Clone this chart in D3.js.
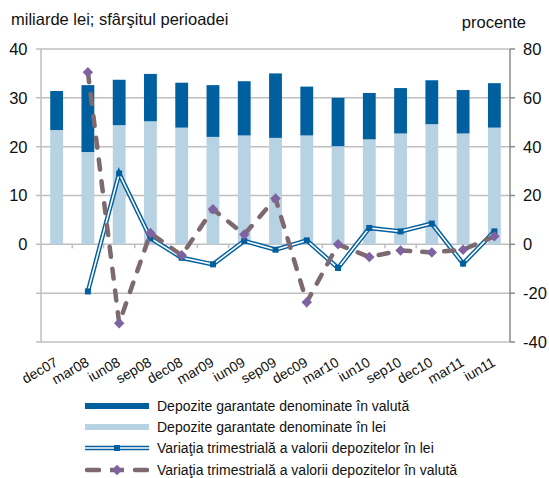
<!DOCTYPE html>
<html>
<head>
<meta charset="utf-8">
<script src="https://cdn.jsdelivr.net/npm/d3@7"></script>
<style>
  body { margin: 0; background: #fff; }
  svg { font-family: "Liberation Sans", Arial, sans-serif; }
</style>
</head>
<body>
<div id="chart"></div>
<script>
// categories (end of quarter)
var categories = ["dec07", "mar08", "iun08", "sep08", "dec08", "mar09", "iun09", "sep09",
                  "dec09", "mar10", "iun10", "sep10", "dec10", "mar11", "iun11"];
// deposits denominated in lei (bn lei)
var depLei = [23.4, 18.9, 24.4, 25.2, 23.9, 22.0, 22.3, 21.8, 22.3, 20.1, 21.5, 22.7, 24.6, 22.7, 23.9];
// deposits denominated in foreign currency (bn lei)
var depValuta = [8.0, 13.7, 9.3, 9.7, 9.2, 10.6, 11.1, 13.2, 10.0, 9.9, 9.5, 9.3, 9.0, 8.9, 9.1];
// quarterly change, lei deposits (%)
var varLei = [null, -19.3, 29.0, 2.5, -5.5, -8.2, 1.4, -2.2, 1.6, -9.7, 6.7, 5.3, 8.5, -7.9, 5.3];
// quarterly change, foreign currency deposits (%)
var varValuta = [null, 70.5, -32.3, 4.6, -4.5, 14.4, 4.0, 18.8, -23.7, 0.0, -5.2, -2.5, -3.3, -2.2, 3.3];
// tick labels
var leftTicks = [0, 10, 20, 30, 40];
var rightTicks = [-40, -20, 0, 20, 40, 60, 80];
var legendLabels = ["Depozite garantate denominate în valută",
                    "Depozite garantate denominate în lei",
                    "Variaţia trimestrială a valorii depozitelor în lei",
                    "Variaţia trimestrială a valorii depozitelor în valută"];

var W = 549, H = 478;
var plot = { left: 41, right: 510, top: 49, bottom: 342 };
var colValuta = "#005f9f", colLei = "#b7d2e3", colLine = "#005f9f",
    colDash = "#7c6a70", colDiamond = "#7f63a1", colGrid = "#bfbfbf";

var svg = d3.select("#chart").append("svg").attr("width", W).attr("height", H);

var x = d3.scaleBand().domain(categories).range([plot.left, plot.right]).paddingInner(0).paddingOuter(0);
var yL = d3.scaleLinear().domain([-20, 40]).range([plot.bottom, plot.top]);
var yR = d3.scaleLinear().domain([-40, 80]).range([plot.bottom, plot.top]);

// gridlines
svg.append("g").selectAll("line").data(d3.range(-20, 41, 10)).enter().append("line")
    .attr("x1", plot.left - 5).attr("x2", plot.right)
    .attr("y1", function (d) { return yL(d); }).attr("y2", function (d) { return yL(d); })
    .attr("stroke", colGrid).attr("stroke-width", 1.5);

// left axis line
svg.append("line").attr("x1", plot.left).attr("x2", plot.left)
    .attr("y1", plot.top).attr("y2", plot.bottom)
    .attr("stroke", colGrid).attr("stroke-width", 1.5);

// left tick labels
svg.append("g").selectAll("text").data(leftTicks).enter().append("text")
    .attr("x", 27.5).attr("y", function (d) { return yL(d); }).attr("dy", "0.36em")
    .attr("text-anchor", "end").attr("font-size", 16.5).attr("fill", "#111")
    .text(function (d) { return d; });

// stacked bars
var barW = x.bandwidth() * 0.41;
var bars = svg.append("g");
bars.selectAll("rect.lei").data(categories).enter().append("rect")
    .attr("class", "lei")
    .attr("x", function (d) { return x(d) + (x.bandwidth() - barW) / 2; })
    .attr("width", barW)
    .attr("y", function (d, i) { return yL(depLei[i]); })
    .attr("height", function (d, i) { return yL(0) - yL(depLei[i]); })
    .attr("fill", colLei);
bars.selectAll("rect.val").data(categories).enter().append("rect")
    .attr("class", "val")
    .attr("x", function (d) { return x(d) + (x.bandwidth() - barW) / 2; })
    .attr("width", barW)
    .attr("y", function (d, i) { return yL(depLei[i] + depValuta[i]); })
    .attr("height", function (d, i) { return yL(depLei[i]) - yL(depLei[i] + depValuta[i]); })
    .attr("fill", colValuta);

// x axis ticks at the zero line
svg.append("g").selectAll("line").data(d3.range(1, categories.length + 1)).enter().append("line")
    .attr("x1", function (d) { return plot.left + d * x.bandwidth(); })
    .attr("x2", function (d) { return plot.left + d * x.bandwidth(); })
    .attr("y1", yL(0)).attr("y2", yL(0) + 4)
    .attr("stroke", colGrid).attr("stroke-width", 1.5);

// right axis
var rAxis = svg.append("g");
rAxis.append("line").attr("x1", plot.right).attr("x2", plot.right)
    .attr("y1", plot.top).attr("y2", plot.bottom)
    .attr("stroke", "#8a8a8a").attr("stroke-width", 1.5);
rAxis.selectAll("line.t").data(rightTicks).enter().append("line")
    .attr("class", "t")
    .attr("x1", plot.right).attr("x2", plot.right + 5)
    .attr("y1", function (d) { return yR(d); }).attr("y2", function (d) { return yR(d); })
    .attr("stroke", "#8a8a8a").attr("stroke-width", 1.5);
rAxis.selectAll("text").data(rightTicks).enter().append("text")
    .attr("x", 523).attr("y", function (d) { return yR(d); }).attr("dy", "0.36em")
    .attr("text-anchor", "start").attr("font-size", 16.5).attr("fill", "#111")
    .text(function (d) { return d; });

// category labels
svg.append("g").selectAll("text").data(categories).enter().append("text")
    .attr("transform", function (d) {
        return "translate(" + (x(d) + x.bandwidth() / 2 + 2) + "," + 365 + ") rotate(-30)";
    })
    .attr("text-anchor", "end").attr("font-size", 14).attr("fill", "#111")
    .text(function (d) { return d; });

// titles
svg.append("text").attr("x", 11).attr("y", 25).attr("font-size", 16.5).attr("fill", "#111")
    .text("miliarde lei; sfârşitul perioadei");
svg.append("text").attr("x", 526).attr("y", 28).attr("text-anchor", "end")
    .attr("font-size", 16.5).attr("fill", "#111").text("procente");

// lei change line (double line)
var lineLei = d3.line()
    .defined(function (d) { return d != null; })
    .x(function (d, i) { return x(categories[i]) + x.bandwidth() / 2; })
    .y(function (d) { return yR(d); });
svg.append("path").datum(varLei).attr("d", lineLei)
    .attr("fill", "none").attr("stroke", colLine).attr("stroke-width", 4.5).attr("stroke-linejoin", "miter");
svg.append("path").datum(varLei).attr("d", lineLei)
    .attr("fill", "none").attr("stroke", "#fff").attr("stroke-width", 1.6).attr("stroke-linejoin", "miter");
svg.append("g").selectAll("rect").data(varLei.map(function (v, i) { return { v: v, c: categories[i] }; })
        .filter(function (d) { return d.v != null; }))
    .enter().append("rect")
    .attr("x", function (d) { return x(d.c) + x.bandwidth() / 2 - 3; })
    .attr("y", function (d) { return yR(d.v) - 3; })
    .attr("width", 6).attr("height", 6).attr("fill", colLine);

// foreign currency change line (dashed)
svg.append("path").datum(varValuta).attr("d", lineLei)
    .attr("fill", "none").attr("stroke", colDash).attr("stroke-width", 4.5)
    .attr("stroke-dasharray", "10,12").attr("stroke-linecap", "round");
var diamond = d3.symbol().type(d3.symbolDiamond2).size(70);
svg.append("g").selectAll("path").data(varValuta.map(function (v, i) { return { v: v, c: categories[i] }; })
        .filter(function (d) { return d.v != null; }))
    .enter().append("path")
    .attr("d", diamond)
    .attr("transform", function (d) {
        return "translate(" + (x(d.c) + x.bandwidth() / 2) + "," + yR(d.v) + ")";
    })
    .attr("fill", colDiamond);

// legend
var leg = svg.append("g");
var legY = [406, 427, 448, 470];
leg.append("rect").attr("x", 85).attr("y", legY[0] - 3).attr("width", 64).attr("height", 6).attr("fill", colValuta);
leg.append("rect").attr("x", 85).attr("y", legY[1] - 3).attr("width", 64).attr("height", 6).attr("fill", colLei);
leg.append("line").attr("x1", 85).attr("x2", 149).attr("y1", legY[2]).attr("y2", legY[2])
    .attr("stroke", colLine).attr("stroke-width", 4.5);
leg.append("line").attr("x1", 85).attr("x2", 149).attr("y1", legY[2]).attr("y2", legY[2])
    .attr("stroke", "#fff").attr("stroke-width", 1.6);
leg.append("rect").attr("x", 114).attr("y", legY[2] - 3).attr("width", 6).attr("height", 6).attr("fill", colLine);
leg.append("line").attr("x1", 87).attr("x2", 99).attr("y1", legY[3]).attr("y2", legY[3])
    .attr("stroke", colDash).attr("stroke-width", 4.5).attr("stroke-linecap", "round");
leg.append("line").attr("x1", 135).attr("x2", 147).attr("y1", legY[3]).attr("y2", legY[3])
    .attr("stroke", colDash).attr("stroke-width", 4.5).attr("stroke-linecap", "round");
leg.append("line").attr("x1", 110).attr("x2", 124).attr("y1", legY[3]).attr("y2", legY[3])
    .attr("stroke", colDash).attr("stroke-width", 4.5);
leg.append("path").attr("d", diamond).attr("transform", "translate(117," + legY[3] + ")").attr("fill", colDiamond);
leg.selectAll("text").data(legendLabels).enter().append("text")
    .attr("x", 157).attr("y", function (d, i) { return legY[i]; }).attr("dy", "0.36em")
    .attr("font-size", 14).attr("fill", "#111")
    .text(function (d) { return d; });
</script>
</body>
</html>
